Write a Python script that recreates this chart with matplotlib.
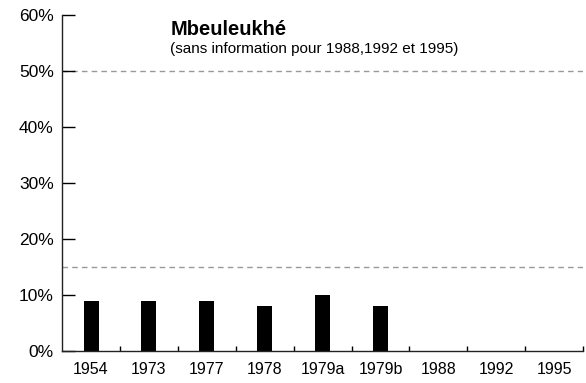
import matplotlib.pyplot as plt
import numpy as np

plt.rcParams['font.family'] = ['Liberation Sans', 'DejaVu Sans']

# taux par campagne (en %), pas d'information pour 1988, 1992 et 1995
campagnes = ["1954", "1973", "1977", "1978", "1979a", "1979b", "1988", "1992", "1995"]
taux = [9, 9, 9, 8, 10, 8, 0, 0, 0]
seuils = [50, 15]

x = np.arange(len(campagnes))

fig = plt.figure(figsize=(5.86, 3.83), dpi=100)
ax = fig.add_axes([0.106, 0.0836, 0.889, 0.8774])

for s in seuils:
  ax.axhline(s, color='#999999', linestyle=(0, (4, 3)), linewidth=1, zorder=1)

ax.bar(x, taux, width=0.26, color='black', zorder=2)

ax.set_xlim(-0.5, len(campagnes) - 0.5)
ax.set_ylim(0, 60)
ax.set_yticks(np.arange(0, 61, 10))
ax.set_yticklabels(["{}%".format(v) for v in range(0, 61, 10)], fontsize=12.5)
ax.set_xticks(x)
ax.set_xticklabels(campagnes, fontsize=11.5)
ax.set_xticks(np.arange(0.5, len(campagnes), 1), minor=True)

ax.tick_params(axis='y', direction='in', length=9, width=1, pad=6)
ax.tick_params(axis='x', which='major', length=0, pad=8)
ax.tick_params(axis='x', which='minor', direction='in', length=3.5, width=1)

for side in ['top', 'right']:
  ax.spines[side].set_visible(False)
for side in ['left', 'bottom']:
  ax.spines[side].set_linewidth(1)
  ax.spines[side].set_color('#222222')

ax.text(0.208, 0.985, "Mbeuleukhé", transform=ax.transAxes, fontsize=14.5, fontweight='bold', va='top')
ax.text(0.208, 0.918, "(sans information pour 1988,1992 et 1995)", transform=ax.transAxes, fontsize=11, va='top')

fig.savefig("out.png", dpi=100)
